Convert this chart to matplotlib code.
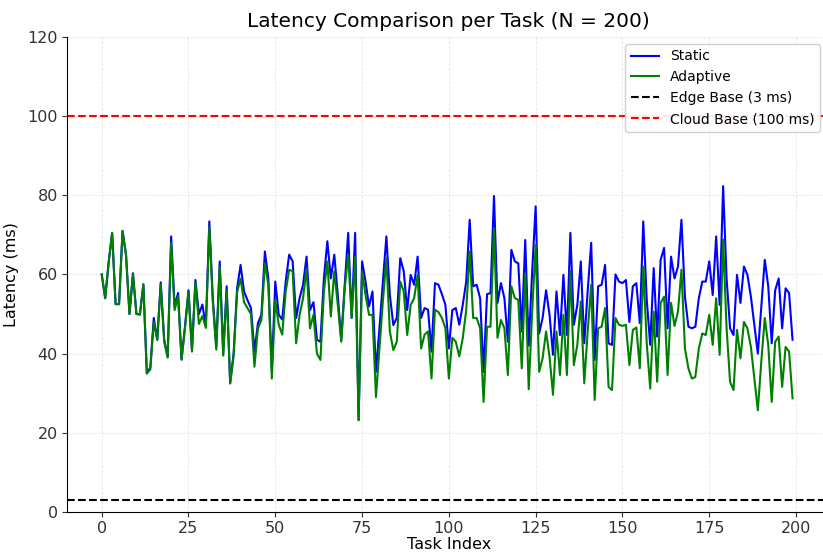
import matplotlib
matplotlib.use("Agg")
import matplotlib.pyplot as plt
import numpy as np

plt.rcParams.update({
    "font.family": "DejaVu Sans",
    "axes.spines.top": False, "axes.spines.right": False,
    "axes.grid": True, "grid.alpha": 0.5, "grid.linestyle": "--",
    "grid.color": "#cccccc", "grid.linewidth": 0.6,
    "figure.facecolor": "white", "axes.facecolor": "white",
})

# latency per task (ms)
static_ms = [
    60, 54, 63, 70.5, 52.5, 52.5, 71, 65, 50, 60.3,
    50, 50, 57.5, 35, 36.5, 49, 43.5, 58, 43.5, 39.3,
    69.6, 52, 55.3, 38.5, 47, 56, 41, 58.6, 50, 52.4,
    47, 73.4, 54, 41.8, 63.3, 40, 57, 32.5, 40, 56.5,
    62.4, 55.7, 53.5, 51.5, 40.5, 47.7, 49.8, 65.8, 59, 36,
    58.2, 49.8, 48.6, 58.2, 65, 63.3, 49, 54, 57.4, 64.5,
    51, 53, 43.5, 43, 59, 68.4, 59, 65, 54.8, 43.5,
    57.4, 70.5, 49, 70.5, 23.2, 63.3, 58.2, 51.9, 55.7, 35.4,
    46.4, 58.2, 69.6, 54.8, 47.2, 49, 64.1, 60.8, 51, 59.9,
    57.4, 64.5, 49, 51.5, 51.1, 40.5, 57.8, 57.4, 55, 52.3,
    41.3, 51, 51.5, 47.3, 52.3, 58.2, 73.8, 57, 57.4, 54,
    35.4, 55, 55.3, 79.8, 52.8, 57.8, 54, 43, 66.2, 63.3,
    62.8, 45.6, 68.7, 42, 60.8, 77.2, 45.1, 49, 56, 49.8,
    39.7, 55.7, 44.7, 59.9, 44.7, 70.5, 47.3, 52.3, 63.3, 42.6,
    56, 68, 38.4, 57, 57.4, 62.4, 42.6, 42.2, 60, 58.2,
    57.8, 58.6, 48, 57, 57.8, 47.7, 73.4, 53.6, 42.2, 61.6,
    44.3, 63.7, 66.7, 46.4, 64.5, 59, 62, 73.8, 54.4, 46.8,
    46.4, 46.8, 54, 58.2, 58.2, 63.3, 54.8, 69.6, 52.3, 82.3,
    59, 46.4, 44.7, 59.9, 52.8, 62, 59.9, 54.4, 47.2, 40,
    51.9, 63.7, 57, 42.6, 56, 59, 46.4, 56.5, 55.3, 43.5,
]
adaptive_ms = [
    60, 54, 63, 70.5, 52.5, 52.5, 71, 65, 50, 60,
    50, 49.8, 57.5, 35, 36, 48, 43.5, 57.5, 43, 39,
    68, 51, 54.5, 38.5, 46.5, 55.5, 40.5, 58, 47.5, 49.5,
    46.5, 72, 53, 41, 62, 39.5, 56, 32.5, 39.5, 55.5,
    59, 53, 51.5, 50, 36.7, 46.4, 48.5, 62.8, 57.4, 33.7,
    53.5, 47.3, 44.8, 55.7, 61.2, 60.8, 42.6, 49.8, 54, 61.6,
    46.4, 49.8, 40, 38.4, 55.7, 63.3, 49.4, 60.8, 52.3, 43,
    56.5, 65, 49, 64.5, 23.2, 60.8, 54.8, 49.8, 49.8, 29,
    41.3, 53.2, 64.1, 45.6, 40.9, 43, 58.2, 55.7, 44.7, 52.3,
    54, 59.9, 41.3, 44.8, 45.6, 33.7, 51.1, 50.5, 49, 46.4,
    33.7, 44, 43, 39.3, 43.9, 51, 65.8, 49, 49, 46.4,
    27.8, 46.8, 46.8, 71.7, 44, 48.5, 46.4, 34.6, 57, 54,
    53.6, 36.3, 60.2, 31, 50.6, 67.5, 35.4, 38.8, 45.6, 39.2,
    29.6, 45.6, 34.6, 49.8, 34.6, 60.8, 37.1, 42.2, 53.2, 32.5,
    45.8, 57.4, 28.3, 46.4, 46.8, 51.5, 31.6, 30.8, 49, 47.3,
    47, 47.3, 37.1, 46, 46.6, 36.3, 62, 42.6, 31.2, 50.6,
    32.9, 52.8, 54.4, 34.6, 52.8, 47, 50.6, 61.2, 41.3, 36.3,
    33.7, 34.1, 41.3, 45.1, 44.7, 49.8, 42.2, 54, 39.7, 68.8,
    46.4, 32.9, 30.8, 46, 38.8, 48, 46.4, 41.7, 33.7, 25.7,
    38, 49, 42.2, 27.8, 43, 44.3, 31.6, 41.7, 40.5, 28.7,
]
EDGE_BASE = 3
CLOUD_BASE = 100

tasks = np.arange(len(static_ms))

fig = plt.figure(figsize=(8.23, 5.55), dpi=100)
ax = fig.add_axes([0.0814, 0.0775, 0.928, 0.856])

ax.plot(tasks, static_ms, color="blue", linewidth=1.5, label="Static")
ax.plot(tasks, adaptive_ms, color="green", linewidth=1.5, label="Adaptive")
ax.axhline(EDGE_BASE, color="black", linestyle="--", linewidth=1.5, label="Edge Base (3 ms)")
ax.axhline(CLOUD_BASE, color="red", linestyle="--", linewidth=1.5, label="Cloud Base (100 ms)")

ax.set_xlim(-10, 210)
ax.set_ylim(0, 120)
ax.set_xticks(np.arange(0, 201, 25))
ax.set_yticks(np.arange(0, 121, 20))
ax.tick_params(labelsize=11.5, colors="#333333", pad=3)
ax.set_xlabel("Task Index", fontsize=11.5, labelpad=1)
ax.set_ylabel("Latency (ms)", fontsize=11.5, labelpad=6)
ax.set_title("Latency Comparison per Task (N = 200)", fontsize=14.5, pad=7)
ax.legend(loc="upper right", fontsize=10, framealpha=0.9,
          bbox_to_anchor=(0.995, 1.0))

fig.savefig("out.png", dpi=100)
